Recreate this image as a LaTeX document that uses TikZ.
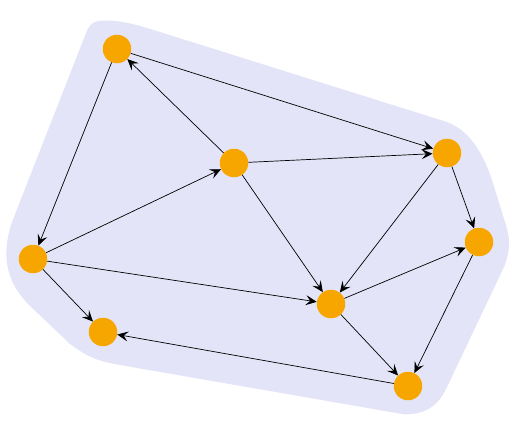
\documentclass[tikz,border=0pt]{standalone}
\usetikzlibrary{arrows.meta}
\definecolor{hullcol}{RGB}{228,228,248}
\definecolor{nodecol}{RGB}{247,166,0}
\begin{document}
\begin{tikzpicture}[x=1pt,y=-1pt,
  vert/.style={circle,fill=nodecol,minimum size=28.5pt,inner sep=0pt},
  edge/.style={-{Stealth[length=11pt,width=10pt,inset=4.5pt]},line width=0.7pt,black}]
\useasboundingbox (0,0) rectangle (518,423);
\fill[hullcol] (12,222) -- (86,33) .. controls (89,24) and (94,20.5) .. (105,20.5)
  .. controls (125,20.5) and (140,26) .. (160,32) -- (447,122)
  .. controls (468,130) and (482,150) .. (492,180) -- (505,222)
  .. controls (511,240) and (510,252) .. (504,267) -- (447,387)
  .. controls (440,402) and (430,414) .. (405,414.5) -- (120,365)
  .. controls (95,361) and (85,355) .. (70,344) -- (28,304)
  .. controls (8,283) and (0,258) .. (12,222) -- cycle;
\node[vert] (A) at (117,49) {};
\node[vert] (B) at (234,163) {};
\node[vert] (C) at (447,153) {};
\node[vert] (D) at (479,242) {};
\node[vert] (E) at (33,259) {};
\node[vert] (F) at (331,304) {};
\node[vert] (G) at (103,332) {};
\node[vert] (H) at (408,386) {};
\draw[edge] (A) -- (C);
\draw[edge] (B) -- (A);
\draw[edge] (B) -- (C);
\draw[edge] (A) -- (E);
\draw[edge] (E) -- (B);
\draw[edge] (B) -- (F);
\draw[edge] (C) -- (D);
\draw[edge] (C) -- (F);
\draw[edge] (E) -- (F);
\draw[edge] (E) -- (G);
\draw[edge] (F) -- (D);
\draw[edge] (F) -- (H);
\draw[edge] (D) -- (H);
\draw[edge] (H) -- (G);
\end{tikzpicture}
\end{document}
